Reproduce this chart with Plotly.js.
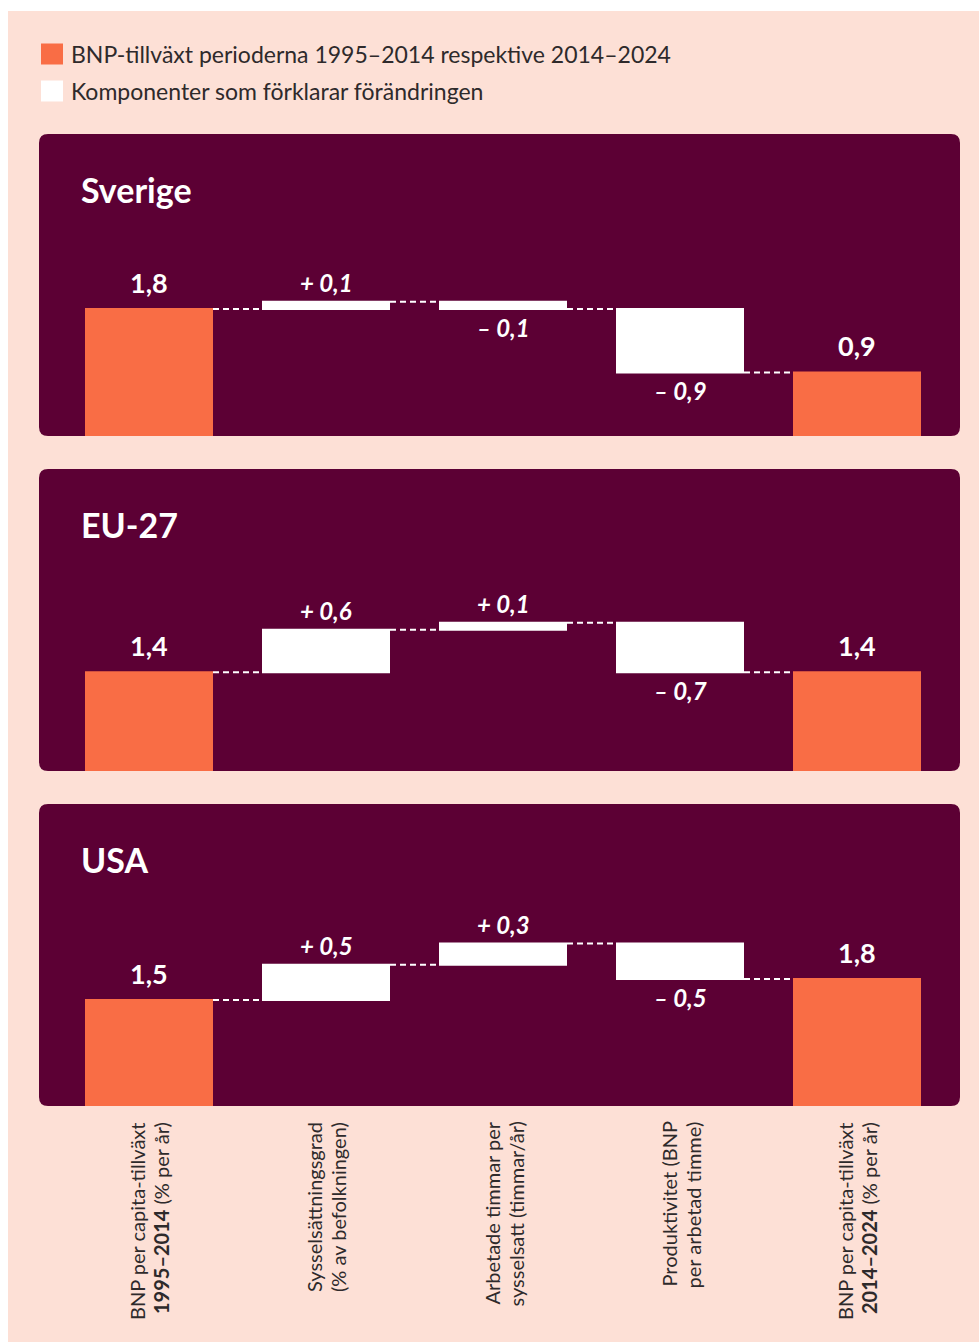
<!DOCTYPE html>
<html><head><meta charset="utf-8">
<script src="https://cdn.plot.ly/plotly-3.0.1.min.js"></script>
<style>html,body{margin:0;padding:0;background:#fff}</style>
</head><body><div id="chart" style="width:979px;height:1342px"></div>
<script>
// ---- data ----
const regions = ["Sverige", "EU-27", "USA"];
const categories = [
  "BNP per capita-tillväxt<br><b>1995–2014</b> (% per år)",
  "Sysselsättningsgrad<br>(% av befolkningen)",
  "Arbetade timmar per<br>sysselsatt (timmar/år)",
  "Produktivitet (BNP<br>per arbetad timme)",
  "BNP per capita-tillväxt<br><b>2014–2024</b> (% per år)"
];
const measures = ["absolute", "relative", "relative", "relative", "absolute"];
const sverige = [1.8, 0.1, -0.1, -0.9, 0.9];
const eu27 = [1.4, 0.6, 0.1, -0.7, 1.4];
const usa = [1.5, 0.5, 0.3, -0.5, 1.8];
const seriesValues = [sverige, eu27, usa];
const legendLabels = [
  "BNP-tillväxt perioderna 1995–2014 respektive 2014–2024",
  "Komponenter som förklarar förändringen"
];

// ---- style ----
const W = 979, H = 1342;
const FONT = "Lato, 'Open Sans', sans-serif";
const MAROON = "#5c0034", ORANGE = "#f96d45", PEACH = "#fde0d6", DARK = "#2e2a2b";
const panelTops = [134, 469, 804], panelH = 302, panelX0 = 39, panelX1 = 960;
const pxPerUnit = 70.6, colStep = 177, firstCenter = 149, barW = 128;

const X = p => p / W, Y = p => 1 - p / H;
function roundRect(x0, y0, x1, y1, r) {
  const rx = r / W, ry = r / H;
  const a = X(x0), b = X(x1), t = Y(y0), u = Y(y1);
  return `M${a + rx},${t} L${b - rx},${t} Q${b},${t} ${b},${t - ry} L${b},${u + ry} Q${b},${u} ${b - rx},${u} L${a + rx},${u} Q${a},${u} ${a},${u + ry} L${a},${t - ry} Q${a},${t} ${a + rx},${t} Z`;
}
const fmt = v => v.toFixed(1).replace(".", ",");

const xIdx = categories.map((c, i) => i);
const xr0 = -(firstCenter - panelX0) / colStep;
const xr1 = xr0 + (panelX1 - panelX0) / colStep;
const yTop = panelH / pxPerUnit;

const traces = [], shapes = [], annotations = [];
// background
shapes.push({type: "rect", xref: "paper", yref: "paper", x0: X(8), x1: 1, y0: 0, y1: Y(11), fillcolor: PEACH, line: {width: 0}, layer: "below"});

const layout = {
  width: W, height: H, margin: {l: 0, r: 0, t: 0, b: 0},
  paper_bgcolor: "#ffffff", plot_bgcolor: "rgba(0,0,0,0)",
  showlegend: false, font: {family: FONT},
  xaxis: {domain: [X(panelX0), X(panelX1)], range: [xr0, xr1], visible: false, fixedrange: true, anchor: "y3"},
};

seriesValues.forEach((vals, k) => {
  const yid = k === 0 ? "y" : "y" + (k + 1);
  const yname = k === 0 ? "yaxis" : "yaxis" + (k + 1);
  const top = panelTops[k];
  layout[yname] = {domain: [Y(top + panelH), Y(top)], range: [0, yTop], visible: false, fixedrange: true, anchor: "x"};
  shapes.push({type: "path", xref: "paper", yref: "paper", path: roundRect(panelX0, top, panelX1, top + panelH, 9), fillcolor: MAROON, line: {width: 0}, layer: "below"});
  traces.push({
    type: "waterfall", x: xIdx, y: vals, measure: measures, xaxis: "x", yaxis: yid,
    width: barW / colStep,
    totals: {marker: {color: ORANGE, line: {width: 0}}},
    increasing: {marker: {color: "#ffffff", line: {width: 0}}},
    decreasing: {marker: {color: "#ffffff", line: {width: 0}}},
    connector: {mode: "between", line: {color: "#ffffff", width: 2, dash: "6px,4px"}},
    hoverinfo: "none", textposition: "none"
  });
  // title
  annotations.push({xref: "paper", yref: "paper", x: X(79), y: Y(top + 55), xanchor: "left", yanchor: "middle",
    text: "<b>" + regions[k] + "</b>", showarrow: false, font: {family: FONT, size: 34, color: "#ffffff"}});
  // value labels
  let cum = 0;
  vals.forEach((v, i) => {
    if (measures[i] === "absolute") {
      cum = v;
      annotations.push({xref: "x", yref: yid, x: i, y: v, xanchor: "center", yanchor: "bottom", yshift: 8,
        text: "<b>" + fmt(v) + "</b>", showarrow: false, font: {family: FONT, size: 27, color: "#ffffff"}});
    } else {
      cum = cum + v;
      const txt = "<b><i>" + (v >= 0 ? "+ " : "– ") + fmt(Math.abs(v)) + "</i></b>";
      annotations.push({xref: "x", yref: yid, x: i, y: cum, xanchor: "center",
        yanchor: v >= 0 ? "bottom" : "top", yshift: v >= 0 ? 3 : -2,
        text: txt, showarrow: false, font: {family: FONT, size: 24, color: "#ffffff"}});
    }
  });
});

// category labels (rotated, one annotation per line)
categories.forEach((c, i) => {
  const lines = c.split("<br>");
  lines.forEach((ln, j) => {
    annotations.push({xref: "x", yref: "paper", x: i, y: Y(1120), xanchor: "center", yanchor: "top",
      xshift: (j - (lines.length - 1) / 2) * 24,
      textangle: -90, text: ln, showarrow: false, font: {family: FONT, size: 20, color: DARK}});
  });
});

// legend
const legendColors = [ORANGE, "#ffffff"];
const legendY = [54, 91];
legendLabels.forEach((t, i) => {
  shapes.push({type: "rect", xref: "paper", yref: "paper", x0: X(41), x1: X(63), y0: Y(legendY[i] + 10.5), y1: Y(legendY[i] - 10.5),
    fillcolor: legendColors[i], line: {width: 0}});
  annotations.push({xref: "paper", yref: "paper", x: X(69), y: Y(legendY[i]), xanchor: "left", yanchor: "middle",
    text: t, showarrow: false, font: {family: FONT, size: 23, color: DARK}});
});

layout.shapes = shapes;
layout.annotations = annotations;
Plotly.newPlot("chart", traces, layout, {staticPlot: true, displayModeBar: false});
</script></body></html>
